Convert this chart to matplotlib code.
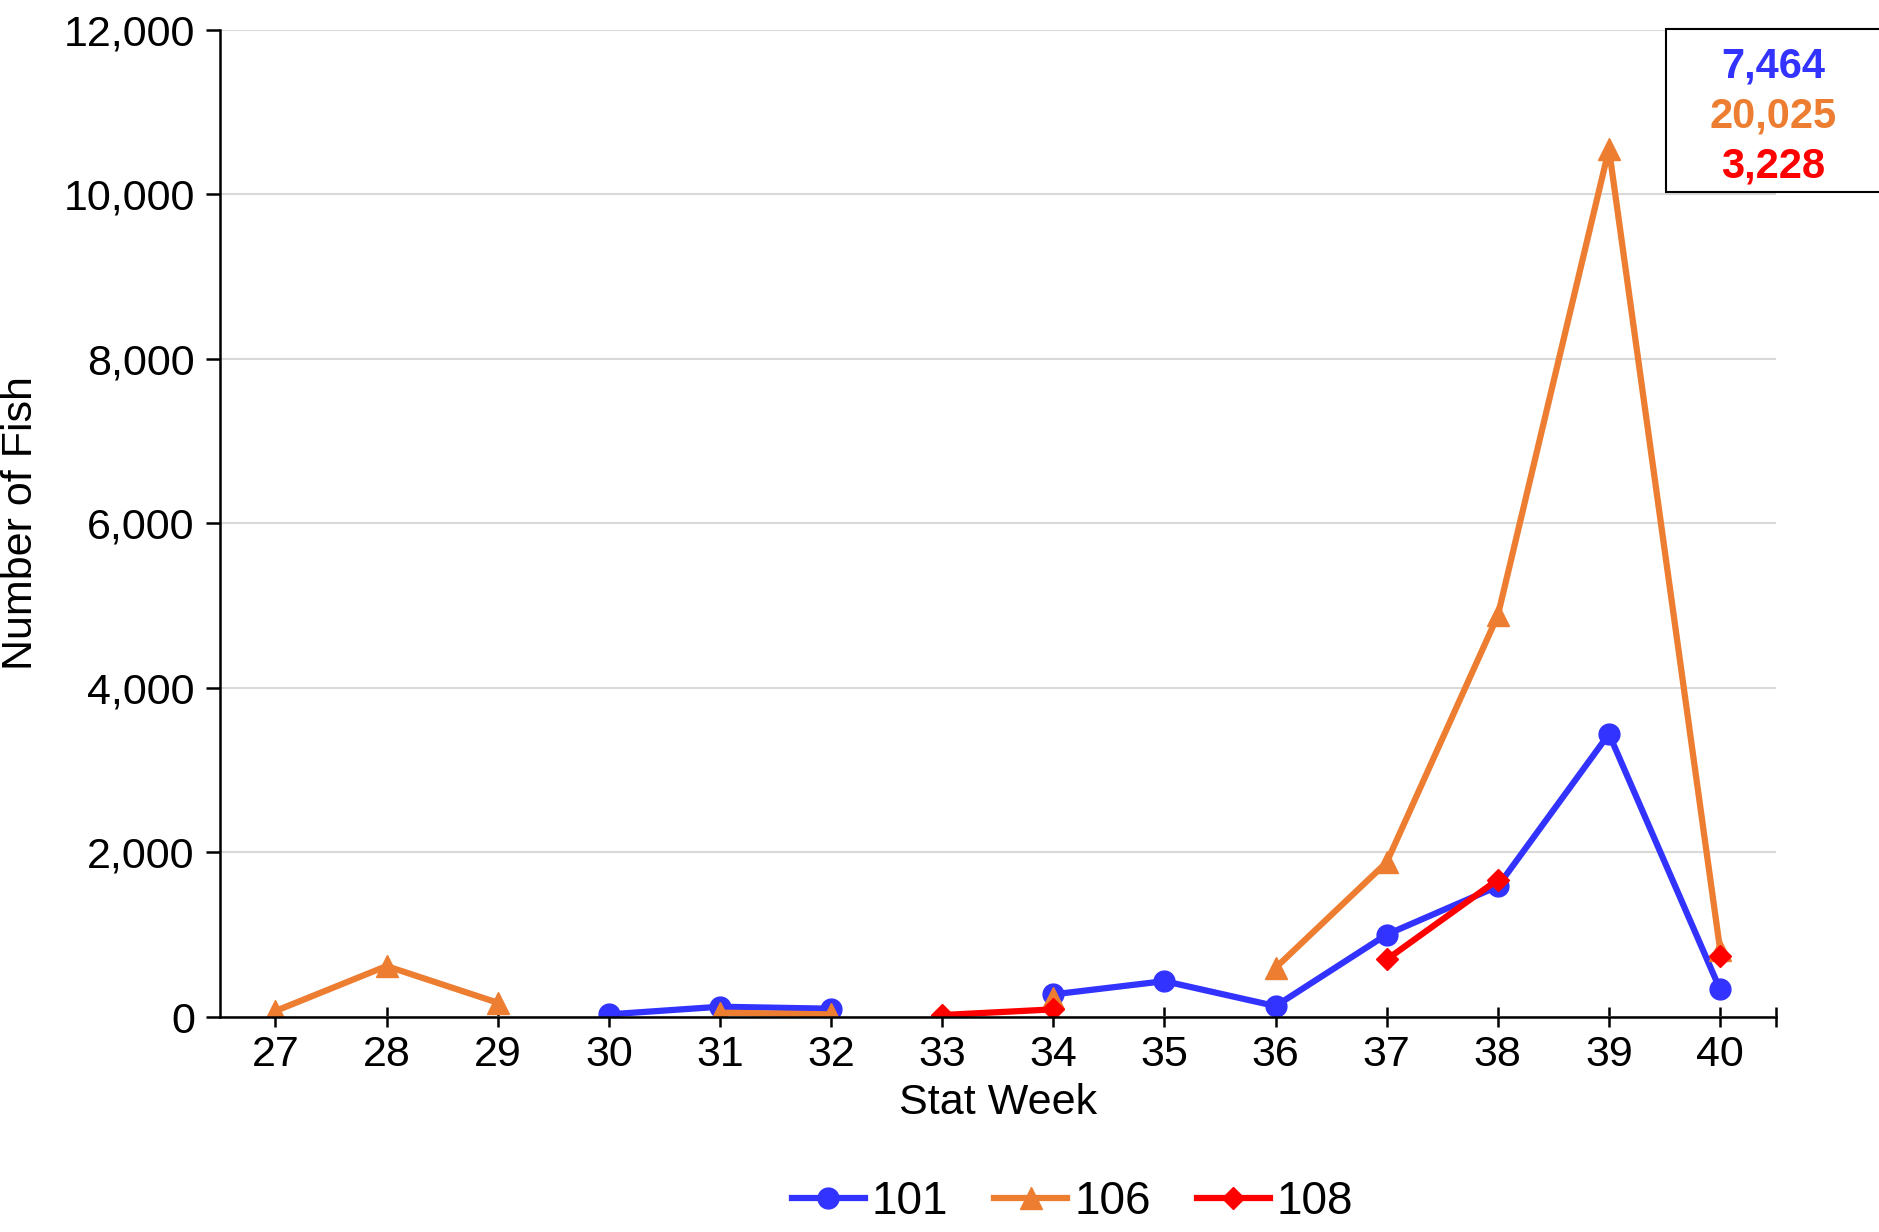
import numpy as np
import matplotlib.pyplot as plt
from matplotlib.patches import Rectangle

plt.rcParams['font.family'] = ['Liberation Sans', 'DejaVu Sans']

weeks = [27, 28, 29, 30, 31, 32, 33, 34, 35, 36, 37, 38, 39, 40]
nan = np.nan
s101 = [nan, nan, nan, 32, 125, 101, nan, 275, 436, 133, 1002, 1588, 3440, 335]
s106 = [73, 619, 174, nan, 53, 32, nan, 234, nan, 598, 1880, 4880, 10550, 820]
s108 = [nan, nan, nan, nan, nan, nan, 24, 93, nan, nan, 699, 1669, nan, 747]
totals = ['7,464', '20,025', '3,228']
names = ['101', '106', '108']
colors = ['#3333FF', '#ED7D31', '#FF0000']
markers = ['o', '^', 'D']
msizes = [15, 16, 11]

fig = plt.figure(figsize=(18.79, 12.32), dpi=100)
ax = fig.add_axes([0.117, 0.1745, 0.828, 0.8015])

x = np.arange(len(weeks))
for vals, name, c, m, ms in zip([s101, s106, s108], names, colors, markers, msizes):
    ax.plot(x, vals, color=c, marker=m, markersize=ms, linewidth=4.5, label=name)

ax.set_xlim(-0.5, len(weeks) - 0.5)
ax.set_ylim(0, 12000)
ax.set_yticks(range(0, 12001, 2000))
ax.set_yticklabels([f'{v:,}' for v in range(0, 12001, 2000)])
ax.set_xticks(x)
ax.set_xticklabels([str(w) for w in weeks])
ax.set_xticks([len(weeks) - 0.5], minor=True)
ax.tick_params(axis='x', which='both', direction='inout', length=14, width=1.8, labelsize=31, pad=6)
ax.tick_params(axis='y', direction='out', length=10, width=1.8, labelsize=31, pad=8)
ax.grid(axis='y', color='#D9D9D9', linewidth=1.5)
ax.set_axisbelow(True)
for s in ['top', 'right']:
    ax.spines[s].set_visible(False)
for s in ['left', 'bottom']:
    ax.spines[s].set_linewidth(1.8)
ax.set_xlabel('Stat Week', fontsize=31, labelpad=6)
ax.set_ylabel('Number of Fish', fontsize=31, labelpad=16)

ax.legend(loc='center', bbox_to_anchor=(0.548, -0.187), ncol=3, frameon=False,
          fontsize=33, handlelength=1.6, columnspacing=1.0, handletextpad=0.15)

# totals box
fig.patches.append(Rectangle((1666 / 1879, 1 - 192 / 1232), 0.2, 163 / 1232,
                             transform=fig.transFigure, facecolor='white',
                             edgecolor='black', linewidth=1.5, zorder=5))
for i, (t, c) in enumerate(zip(totals, colors)):
    fig.text(1773 / 1879, 1 - (66 + 50 * i) / 1232, t, color=c, fontsize=30,
             fontweight='bold', ha='center', va='center', zorder=6)

fig.savefig('out.png', dpi=100)
